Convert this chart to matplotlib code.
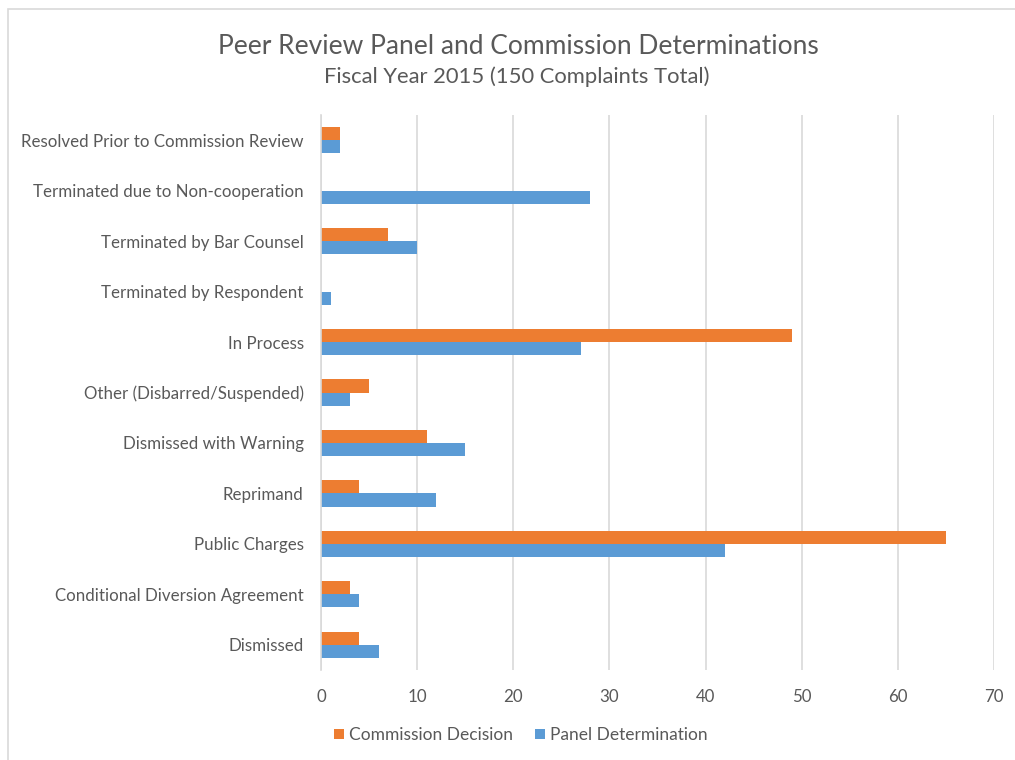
import matplotlib.pyplot as plt
import numpy as np
from matplotlib.patches import Rectangle

plt.rcParams['font.family'] = ['Lato', 'DejaVu Sans']

# Categories listed top to bottom as shown in the chart
categories = [
    'Resolved Prior to Commission Review',
    'Terminated due to Non-cooperation',
    'Terminated by Bar Counsel',
    'Terminated by Respondent',
    'In Process',
    'Other (Disbarred/Suspended)',
    'Dismissed with Warning',
    'Reprimand',
    'Public Charges',
    'Conditional Diversion Agreement',
    'Dismissed',
]
commission = [2, 0, 7, 0, 49, 5, 11, 4, 65, 3, 4]
panel = [2, 28, 10, 1, 27, 3, 15, 12, 42, 4, 6]
x_ticks = [0, 10, 20, 30, 40, 50, 60, 70]

ORANGE = '#ED7D31'
BLUE = '#5B9BD5'
TEXT = '#595959'
GRID = '#D9D9D9'

fig = plt.figure(figsize=(10.15, 7.6), dpi=100)
ax = fig.add_axes([321 / 1015, 1 - 670 / 760, (994 - 321) / 1015, (670 - 115) / 760])

# chart frame
fig.patches.append(Rectangle((8 / 1015, -0.01), 1.0, 1 - 9 / 760 + 0.01,
                             transform=fig.transFigure, fill=False,
                             edgecolor=GRID, linewidth=1.2))

y = np.arange(len(categories))
h = 0.26
ax.barh(y - h / 2, commission, height=h, color=ORANGE, label='Commission Decision', zorder=3)
ax.barh(y + h / 2, panel, height=h, color=BLUE, label='Panel Determination', zorder=3)

ax.set_ylim(len(categories) - 0.5, -0.5)
ax.set_xlim(0, 70)
ax.set_xticks(x_ticks)
ax.set_yticks(y)
ax.set_yticklabels(categories)
ax.tick_params(axis='y', length=0, pad=12.5, labelsize=12.2, labelcolor=TEXT)
ax.tick_params(axis='x', length=0, pad=14, labelsize=12.2, labelcolor=TEXT)

ax.grid(axis='x', color=GRID, linewidth=1.2, zorder=0)
for side in ['top', 'right', 'bottom']:
    ax.spines[side].set_visible(False)
ax.spines['left'].set_color(GRID)
ax.spines['left'].set_linewidth(1.2)
ax.spines['left'].set_zorder(4)

fig.text(518 / 1015, 1 - 46 / 760, 'Peer Review Panel and Commission Determinations',
         ha='center', va='center', fontsize=19, color=TEXT)
fig.text(517 / 1015, 1 - 77 / 760, 'Fiscal Year 2015 (150 Complaints Total)',
         ha='center', va='center', fontsize=15.8, color=TEXT)

ax.legend(loc='center', bbox_to_anchor=(521 / 1015, 1 - 735 / 760),
          bbox_transform=fig.transFigure, ncol=2, frameon=False,
          fontsize=12.5, labelcolor=TEXT, handlelength=0.55, handleheight=0.55,
          handletextpad=0.3, columnspacing=1.3)

fig.savefig('out.png', dpi=100, facecolor='white')
